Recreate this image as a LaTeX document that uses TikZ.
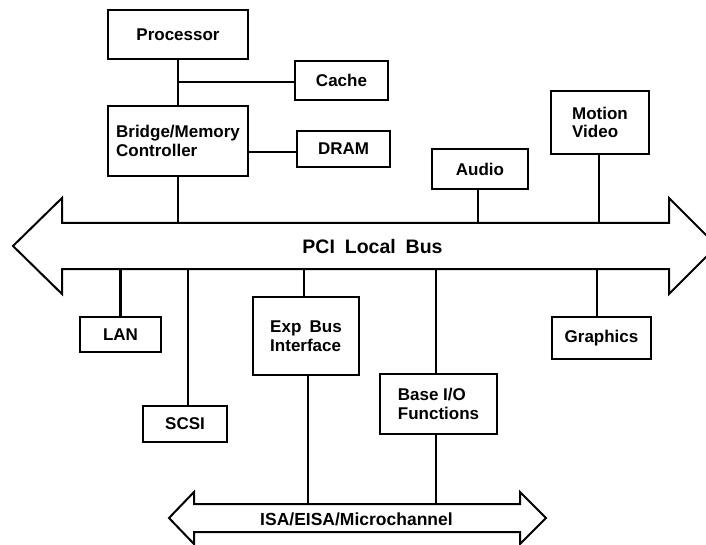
\documentclass[tikz,border=0pt]{standalone}
\usepackage{fontspec}
\setmainfont{Liberation Sans}
\begin{document}
\begin{tikzpicture}[x=1pt,y=-1pt,
  box/.style={draw, line width=2.4pt, fill=white, inner sep=0pt, outer sep=0pt,
    align=left, font=\fontsize{17}{18.5}\selectfont\bfseries},
  wire/.style={line width=2.4pt},
  busline/.style={line width=2pt, line join=miter, fill=white}]
\useasboundingbox (0,0) rectangle (706,545);

% buses
\draw[busline] (13,246) -- (62,198) -- (62,223) -- (669,223) -- (669,198) -- (717,246)
  -- (669,294) -- (669,269) -- (62,269) -- (62,294) -- cycle;
\draw[busline] (169,518) -- (194,492) -- (194,504) -- (520,504) -- (520,492) -- (546,518)
  -- (520,544) -- (520,532) -- (194,532) -- (194,544) -- cycle;
\coordinate (pcitop) at (0,223);
\coordinate (pcibot) at (0,269);
\coordinate (isatop) at (0,504);
\node[font=\fontsize{19.5}{20}\selectfont\bfseries] (pcilabel) at (372.5,247) {PCI\hspace{4.5pt} Local\hspace{4.5pt} Bus};
\node[font=\fontsize{17.5}{18}\selectfont\bfseries] (isalabel) at (356.5,519) {ISA/EISA/Microchannel};

% boxes
\node[box, minimum width=140, minimum height=49] (proc) at (178,34.5) {Processor};
\node[box, minimum width=93, minimum height=39] (cache) at (341.5,80.5) {Cache};
\node[box, minimum width=140, minimum height=70] (bridge) at (178,141) {Bridge/Memory\\Controller};
\node[box, minimum width=93, minimum height=36] (dram) at (343.5,149) {DRAM};
\node[box, minimum width=96, minimum height=40] (audio) at (480,169) {Audio};
\node[box, minimum width=98, minimum height=63] (motion) at (600,122.5) {Motion\\Video};
\node[box, minimum width=81, minimum height=35] (lan) at (120.5,334.5) {LAN};
\node[box, minimum width=84, minimum height=36] (scsi) at (185,424) {SCSI};
\node[box, minimum width=106, minimum height=78] (exp) at (306,336) {Exp\hspace{3.5pt} Bus\\Interface};
\node[box, minimum width=117, minimum height=60] (baseio) at (438.5,404) {Base I/O\\Functions};
\node[box, minimum width=99, minimum height=42] (graphics) at (601.5,338) {Graphics};

% connectors
\draw[wire] (proc.south) -- (proc.south |- bridge.north);
\draw[wire] ([yshift=-1.5pt]cache.west) -- ([yshift=-1.5pt]cache.west -| proc.south);
\draw[wire] ([yshift=-3pt]dram.west) -- ([yshift=-3pt]dram.west -| bridge.east);
\draw[wire] (bridge.south) -- (bridge.south |- pcitop);
\draw[wire] ([xshift=-2pt]audio.south) -- ([xshift=-2pt]audio.south |- pcitop);
\draw[wire] ([xshift=-1pt]motion.south) -- ([xshift=-1pt]motion.south |- pcitop);
\draw[wire] (lan.north) -- (lan.north |- pcibot);
\draw[wire] ([xshift=3pt]scsi.north) -- ([xshift=3pt]scsi.north |- pcibot);
\draw[wire] ([xshift=-2pt]exp.north) -- ([xshift=-2pt]exp.north |- pcibot);
\draw[wire] ([xshift=2pt]exp.south) -- ([xshift=2pt]exp.south |- isatop);
\draw[wire] ([xshift=-2.5pt]baseio.north) -- ([xshift=-2.5pt]baseio.north |- pcibot);
\draw[wire] ([xshift=-2.5pt]baseio.south) -- ([xshift=-2.5pt]baseio.south |- isatop);
\draw[wire] ([xshift=-4.5pt]graphics.north) -- ([xshift=-4.5pt]graphics.north |- pcibot);
\end{tikzpicture}
\end{document}
